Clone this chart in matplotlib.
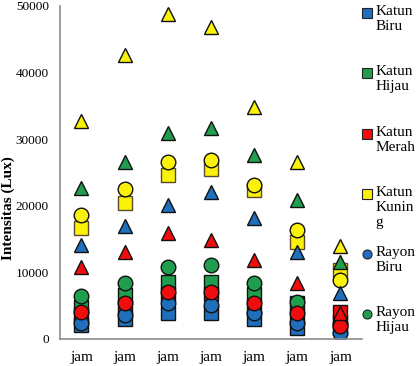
import matplotlib
matplotlib.use("Agg")
import matplotlib.pyplot as plt
from matplotlib.lines import Line2D

plt.rcParams['font.family'] = ['Liberation Serif', 'DejaVu Serif']

categories = ["jam", "jam", "jam", "jam", "jam", "jam", "jam"]

# Katun (squares)
katun_biru = [2100, 3000, 3900, 3900, 3000, 1700, 1650]
katun_hijau = [4800, 6600, 8600, 8600, 6800, 5400, 2600]
katun_merah = [3600, 4800, 6800, 6800, 4800, 3500, 4000]
katun_kuning = [16700, 20400, 24600, 25500, 22400, 14600, 10400]
# Rayon (circles)
rayon_biru = [2400, 3600, 5400, 5100, 3900, 2400, 900]
rayon_hijau = [6400, 8400, 10800, 11100, 8400, 5600, 2300]
rayon_merah = [4100, 5400, 7100, 7100, 5400, 3900, 2000]
rayon_kuning = [18600, 22500, 26600, 26900, 23100, 16400, 8900]
# third fabric (triangles), not shown in the cut-off legend
poli_biru = [14100, 17000, 20100, 22100, 18200, 13100, 6900]
poli_hijau = [22700, 26600, 30900, 31700, 27600, 20900, 11600]
poli_merah = [10800, 13100, 15900, 14900, 11800, 8400, 3900]
poli_kuning = [32700, 42600, 48800, 46800, 34800, 26600, 14000]

blue = "#1f6fbd"
green = "#1f9e4e"
red = "#f00d0d"
yellow = "#fbf20a"

series = [
    ("Katun\nBiru", katun_biru, "s", blue),
    ("Katun\nHijau", katun_hijau, "s", green),
    ("Katun\nMerah", katun_merah, "s", red),
    ("Katun\nKunin\ng", katun_kuning, "s", yellow),
    ("Rayon\nBiru", rayon_biru, "o", blue),
    ("Rayon\nHijau", rayon_hijau, "o", green),
    ("Rayon\nMerah", rayon_merah, "o", red),
    ("Rayon\nKuning", rayon_kuning, "o", yellow),
    ("Poliester\nBiru", poli_biru, "^", blue),
    ("Poliester\nHijau", poli_hijau, "^", green),
    ("Poliester\nMerah", poli_merah, "^", red),
    ("Poliester\nKuning", poli_kuning, "^", yellow),
]

fig = plt.figure(figsize=(4.16, 3.66), dpi=100)
ax = fig.add_axes([0.144, 0.074, 0.726, 0.910])

x = list(range(len(categories)))
for label, vals, mk, col in series:
    edge = "#5a4a2a" if (mk == "s" and col == yellow) else "#111111"
    ax.plot(x, vals, linestyle="none", marker=mk, markersize=10.5,
            markerfacecolor=col, markeredgecolor=edge, markeredgewidth=1.0)

ax.set_xlim(-0.5, 6.5)
ax.set_ylim(0, 50000)
ax.set_yticks(range(0, 50001, 10000))
ax.set_xticks(x)
ax.set_xticklabels(categories, fontsize=11)
ax.tick_params(axis="both", length=0)
ax.tick_params(axis="x", pad=9, labelsize=11)
ax.tick_params(axis="y", pad=8, labelsize=9.5)
ax.set_ylabel("Intensitas (Lux)", fontsize=11, fontweight="bold")
ax.yaxis.set_label_coords(-0.148, 0.393)
for s in ["top", "right"]:
    ax.spines[s].set_visible(False)
for s in ["left", "bottom"]:
    ax.spines[s].set_color("#8c8c8c")
    ax.spines[s].set_linewidth(1.2)

# legend, only first six entries visible (cut off in the original)
for i, (label, vals, mk, col) in enumerate(series[:6]):
    ytop = 0.986 - i * 0.1645
    fig.text(0.903, ytop, label, fontsize=11, va="top", ha="left",
             linespacing=1.2)
    fig.add_artist(Line2D([0.882], [ytop - 0.022], transform=fig.transFigure,
                          linestyle="none", marker=mk, markersize=6.5,
                          markerfacecolor=col, markeredgecolor="#222222",
                          markeredgewidth=0.8))

fig.savefig("out.png", dpi=100)
